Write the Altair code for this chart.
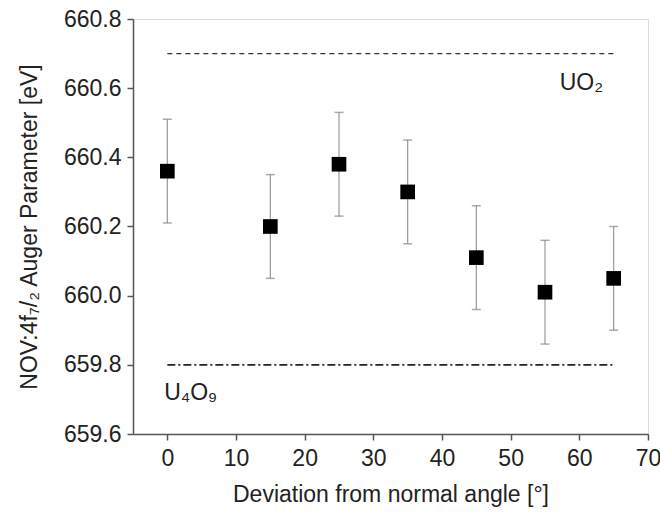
import altair as alt
import pandas as pd

angles = [0, 15, 25, 35, 45, 55, 65]
auger = [660.36, 660.20, 660.38, 660.30, 660.11, 660.01, 660.05]
err = [0.15, 0.15, 0.15, 0.15, 0.15, 0.15, 0.15]

ref_names = ["UO₂", "U₄O₉"]
ref_values = [660.70, 659.80]
ref_x_start = [0, 0]
ref_x_end = [65, 65]
ref_label_x = [60.3, 3.4]
ref_label_y = [660.615, 659.72]

df = pd.DataFrame({"x": angles, "y": auger, "lo": [a - e for a, e in zip(auger, err)],
                   "hi": [a + e for a, e in zip(auger, err)]})
ref = pd.DataFrame({"name": ref_names, "y": ref_values, "x": ref_x_start, "x2": ref_x_end,
                    "lx": ref_label_x, "ly": ref_label_y})

FONT = "Liberation Sans"
FS = 23
xs = alt.Scale(domain=[-5, 70], nice=False, zero=False)
ys = alt.Scale(domain=[659.6, 660.8], nice=False, zero=False)

xaxis = alt.Axis(
    title="Deviation from normal angle [°]",
    values=list(range(0, 71, 5)),
    labelExpr="datum.value % 10 === 0 ? datum.label : ''",
    tickSize={"condition": {"test": "datum.value % 10 === 0", "value": 6}, "value": 4},
    grid=False, labelFontSize=FS, titleFontSize=FS, labelFont=FONT, titleFont=FONT,
    titleFontWeight="normal", labelColor="#222", titleColor="#222", domainColor="#555",
    tickColor="#555", domainWidth=1.5, tickWidth=1.5, labelPadding=7, titlePadding=13,
    labelFlush=False,
)
yvals = [round(659.6 + 0.1 * i, 1) for i in range(13)]
yaxis = alt.Axis(
    title="NOV:4f₇/₂ Auger Parameter [eV]",
    values=yvals, format=".1f",
    labelExpr="round(datum.value*10) % 2 === 0 ? datum.label : ''",
    tickSize={"condition": {"test": "round(datum.value*10) % 2 === 0", "value": 6}, "value": 4},
    grid=False, labelFontSize=FS, titleFontSize=FS, labelFont=FONT, titleFont=FONT,
    titleFontWeight="normal", labelColor="#222", titleColor="#222", domainColor="#555",
    tickColor="#555", domainWidth=1.5, tickWidth=1.5, labelPadding=6, titlePadding=22,
    labelFlush=False,
)

base = alt.Chart(df)
bars = base.mark_rule(color="#999999", strokeWidth=1.2).encode(
    x=alt.X("x:Q", scale=xs, axis=xaxis), y=alt.Y("lo:Q", scale=ys, axis=yaxis), y2="hi:Q")
cap_lo = base.mark_tick(color="#888888", orient="horizontal", size=9, thickness=1.5).encode(
    x=alt.X("x:Q", scale=xs), y=alt.Y("lo:Q", scale=ys))
cap_hi = base.mark_tick(color="#888888", orient="horizontal", size=9, thickness=1.5).encode(
    x=alt.X("x:Q", scale=xs), y=alt.Y("hi:Q", scale=ys))
pts = base.mark_square(color="black", size=215, opacity=1).encode(
    x=alt.X("x:Q", scale=xs), y=alt.Y("y:Q", scale=ys))

rb = alt.Chart(ref)
uo2 = rb.transform_filter(alt.datum.name == "UO₂").mark_rule(
    color="#333", strokeWidth=1.2, strokeDash=[5, 4]).encode(
    x=alt.X("x:Q", scale=xs), x2="x2:Q", y=alt.Y("y:Q", scale=ys))
u4o9 = rb.transform_filter(alt.datum.name == "U₄O₉").mark_rule(
    color="#222", strokeWidth=1.8, strokeDash=[8, 3, 2, 3]).encode(
    x=alt.X("x:Q", scale=xs), x2="x2:Q", y=alt.Y("y:Q", scale=ys))
labels = rb.mark_text(font=FONT, fontSize=FS, color="#222").encode(
    x=alt.X("lx:Q", scale=xs), y=alt.Y("ly:Q", scale=ys), text="name:N")

chart = alt.layer(uo2, u4o9, bars, cap_lo, cap_hi, pts, labels).properties(
    width=515, height=415,
    autosize=alt.AutoSizeParams(type="none"),
    padding={"left": 133, "top": 19, "right": 12, "bottom": 78},
).configure_view(stroke="#555", strokeWidth=1.5).configure(background="white")

chart.save("out.html", embed_options={"renderer": "svg", "actions": False})
